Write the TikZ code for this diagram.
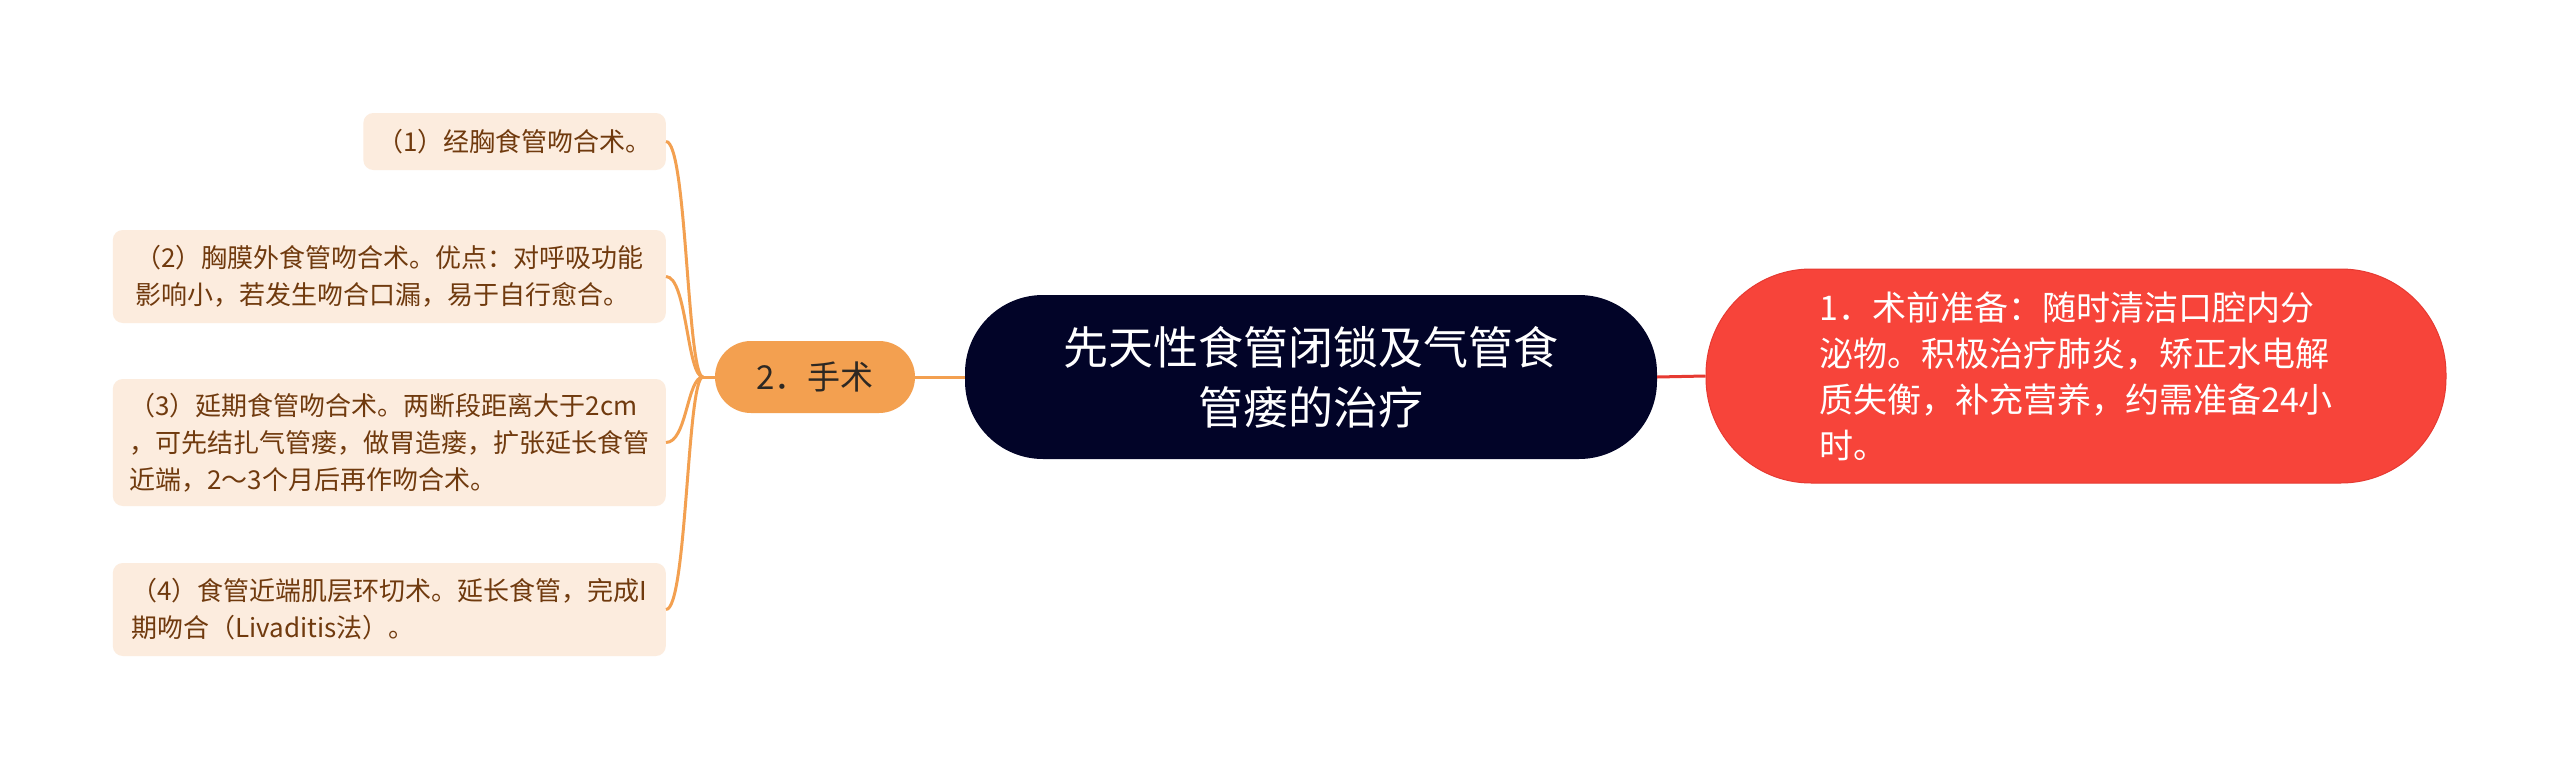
\documentclass[tikz,border=0pt]{standalone}
\usepackage{fontspec}
\setmainfont{Noto Sans CJK SC}
\definecolor{leafbg}{RGB}{252,236,222}
\definecolor{leaftext}{RGB}{112,58,14}
\definecolor{branch}{RGB}{243,160,80}
\definecolor{rootbg}{RGB}{2,4,40}
\definecolor{redbg}{RGB}{247,68,58}
\definecolor{redline}{RGB}{230,58,50}
\definecolor{optext}{RGB}{45,40,35}
\begin{document}
\begin{tikzpicture}[x=1pt,y=-1pt,
  leaf/.style={rectangle, rounded corners=10pt, fill=leafbg, text=leaftext,
    font=\fontsize{26}{37}\selectfont, align=left, anchor=east,
    inner xsep=14pt, inner ysep=0pt},
  rootnode/.style={rectangle, rounded corners=78pt, fill=rootbg, text=white,
    font=\fontsize{45}{60}\selectfont, align=center,
    minimum width=692pt, minimum height=164pt, inner sep=0pt},
  rednode/.style={rectangle, rounded corners=105pt, fill=redbg, draw=redline, line width=1pt,
    text=white, font=\fontsize{34}{46}\selectfont, align=left,
    minimum width=740pt, minimum height=214pt, inner sep=0pt},
  opnode/.style={rectangle, rounded corners=36pt, fill=branch, text=optext,
    font=\fontsize{33}{40}\selectfont,
    minimum width=200pt, minimum height=72pt, inner sep=0pt},
  conn/.style={draw=branch, line width=3pt},
  redconn/.style={draw=redline, line width=3pt}]
\useasboundingbox[fill=white] (0,0) rectangle (2560,771);

\node[rootnode] (root) at (1311,377) {先天性食管闭锁及气管食\\管瘘的治疗};
\node[rednode] (pre) at (2076,376) {1．术前准备：随时清洁口腔内分\\泌物。积极治疗肺炎，矫正水电解\\质失衡，补充营养，约需准备24小\\时。};
\node[opnode] (op) at (815,377) {2．手术};

\node[leaf, minimum height=57pt] (l1) at (666,141.5) {（1）经胸食管吻合术。};
\node[leaf, minimum height=93pt, minimum width=553pt] (l2) at (666,276.5) {（2）胸膜外食管吻合术。优点：对呼吸功能\\影响小，若发生吻合口漏，易于自行愈合。};
\node[leaf, minimum height=127pt, minimum width=553pt] (l3) at (666,442.5) {（3）延期食管吻合术。两断段距离大于2cm\\，可先结扎气管瘘，做胃造瘘，扩张延长食管\\近端，2～3个月后再作吻合术。};
\node[leaf, minimum height=93pt, minimum width=553pt] (l4) at (666,609.5) {（4）食管近端肌层环切术。延长食管，完成I\\期吻合（Livaditis法）。};

\coordinate (fork) at (703,377);
\coordinate (bx) at (687,0);
\draw[redconn] (root.east) -- (pre.west);
\draw[conn] (op.east) -- (root.west);
\draw[conn] (op.west) -- (fork);
\foreach \l in {l1,l2,l3,l4}{
  \draw[conn] (fork) .. controls (bx |- fork) and (bx |- \l.east) .. (\l.east);
}
\end{tikzpicture}
\end{document}
